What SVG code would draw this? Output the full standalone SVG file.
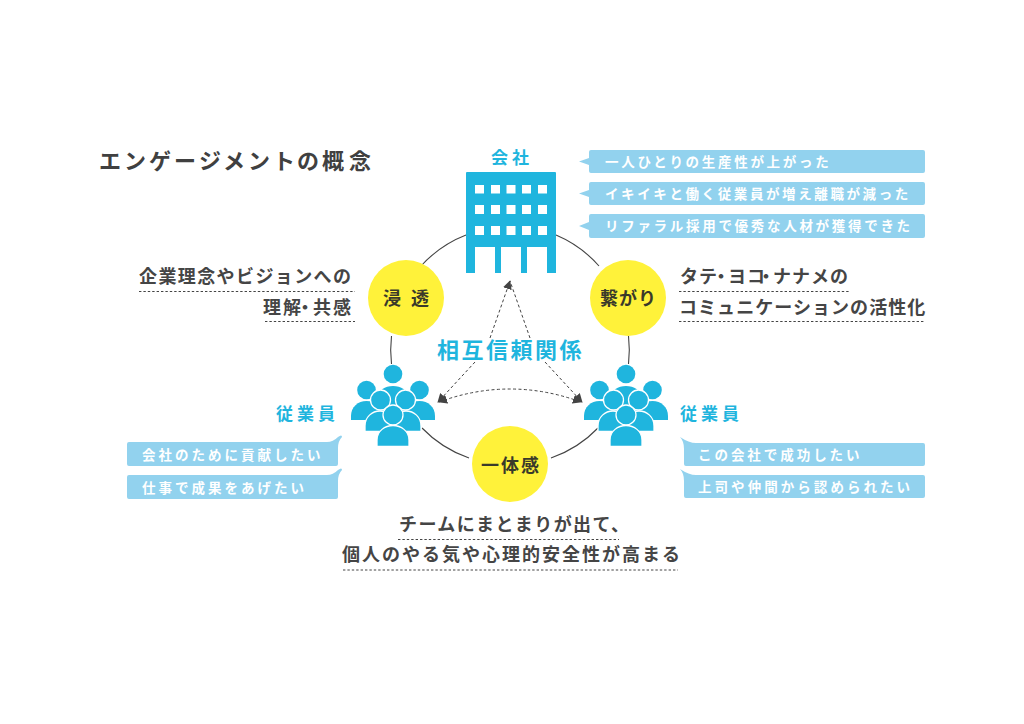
<svg xmlns="http://www.w3.org/2000/svg" xmlns:xlink="http://www.w3.org/1999/xlink" width="1024" height="724" viewBox="0 0 1024 724">
<style>
text{font-family:"Noto Sans CJK JP","Noto Sans",sans-serif}
.dark{fill:#454545;font-weight:700;font-size:18px;letter-spacing:1.4px}
.title{fill:#404040;font-weight:700;font-size:22px}
.blue{fill:#1fb5de;font-weight:700;font-size:17px;letter-spacing:4px}
.mid{fill:#1fb5de;font-weight:700;font-size:22px;letter-spacing:2.5px}
.bub{fill:#fff;font-weight:700;font-size:13.5px;letter-spacing:2.7px}
.circ{fill:#3a3a2a;font-weight:700;font-size:18px}
.ring{fill:none;stroke:#444;stroke-width:1.1}
.dot{stroke:#444;stroke-width:1;stroke-dasharray:2.4 2;fill:none}
.arr{stroke:#444;stroke-width:1;stroke-dasharray:3 2.4;fill:none}
.bb{fill:#92d2ee}
.y{fill:#fff23a}
.p{fill:#1fb5de}
.po{fill:#1fb5de;stroke:#fff;stroke-width:1.3}
</style>
<defs>
<marker id="ah" viewBox="0 0 10 10" refX="9" refY="5" markerWidth="9" markerHeight="9" markerUnits="userSpaceOnUse" orient="auto-start-reverse"><path d="M0 0L10 5L0 10Z" fill="#444"/></marker>
<g id="people">
<circle class="p" cx="0" cy="0" r="9.3"/>
<path class="p" d="M-15 24C-15 16-8 12 0 12C8 12 15 16 15 24V38H-15Z"/>
<circle class="p" cx="-26.5" cy="16" r="9.3"/>
<circle class="p" cx="26.5" cy="16" r="9.3"/>
<path class="p" d="M-42 46V42C-42 33-35 27-26.5 27C-18 27-11 33-11 42V46Z"/>
<path class="p" d="M42 46V42C42 33 35 27 26.5 27C18 27 11 33 11 42V46Z"/>
<circle class="po" cx="-12.5" cy="26" r="10"/>
<circle class="po" cx="12.5" cy="26" r="10"/>
<path class="po" d="M-28 57.5V52C-28 43-21 37-13 37C-5 37 2 43 2 52V57.5Z"/>
<path class="po" d="M28 57.5V52C28 43 21 37 13 37C5 37-2 43-2 52V57.5Z"/>
<circle class="po" cx="0" cy="41" r="10"/>
<path class="po" d="M-16 72.5V66C-16 57-8 51.500 0 51.500C8 51.500 16 57 16 66V72.500Z"/>
</g>
</defs>
<rect width="1024" height="724" fill="#fff"/>
<g id="connectors">
<path class="ring" d="M556 235A119 119 0 0 1 599 266"/>
<path class="ring" d="M628.500 336A119 119 0 0 1 628.500 364"/>
<path class="ring" d="M598 428A119 119 0 0 1 551 458"/>
<path class="ring" d="M469 458A119 119 0 0 1 422 428"/>
<path class="ring" d="M391.500 364A119 119 0 0 1 391.500 336"/>
<path class="ring" d="M421 266A119 119 0 0 1 466 235"/>
<path class="arr" d="M490 338L510 281" marker-end="url(#ah)"/>
<path class="arr" d="M530 338L510 281"/>
<path class="arr" d="M475 362L438 402" marker-end="url(#ah)"/>
<path class="arr" d="M545 362L582 402" marker-end="url(#ah)"/>
<path class="arr" d="M439 402Q510 376 581 402" marker-start="url(#ah)" marker-end="url(#ah)"/>
</g>
<text class="title" x="99 124 149 174 199 223 248 273 297 322 349" y="169">エンゲージメントの概念</text>
<g id="company">
<path class="p" d="M467 172H555Q556 172 556 173V273H547V247H527V273H521V247H501V273H495V247H475V273H466V173Q466 172 467 172Z"/>
<g fill="#fff">
<rect x="475" y="185" width="9" height="8.500"/><rect x="491" y="185" width="9" height="8.500"/><rect x="506.500" y="185" width="9" height="8.500"/><rect x="522" y="185" width="9" height="8.500"/><rect x="538" y="185" width="9" height="8.500"/>
<rect x="475" y="205" width="9" height="9"/><rect x="491" y="205" width="9" height="9"/><rect x="506.500" y="205" width="9" height="9"/><rect x="522" y="205" width="9" height="9"/><rect x="538" y="205" width="9" height="9"/>
<rect x="475" y="226" width="9" height="9"/><rect x="491" y="226" width="9" height="9"/><rect x="506.500" y="226" width="9" height="9"/><rect x="522" y="226" width="9" height="9"/><rect x="538" y="226" width="9" height="9"/>
</g>
<text class="blue" x="491" y="164">会社</text>
</g>
<g id="company-voices">
<path class="bb" d="M591 150H923Q925 150 925 152V171Q925 173 923 173H591Q589 173 589 171V165L579 161.500L589 158V152Q589 150 591 150Z"/>
<path class="bb" d="M591 182H923Q925 182 925 184V203Q925 205 923 205H591Q589 205 589 203V197L579 193.500L589 190V184Q589 182 591 182Z"/>
<path class="bb" d="M591 214H923Q925 214 925 216V236Q925 238 923 238H591Q589 238 589 236V230L579 226L589 222V216Q589 214 591 214Z"/>
<text class="bub" x="605" y="166.500">一人ひとりの生産性が上がった</text>
<text class="bub" x="605" y="198.500" style="letter-spacing:2.6px">イキイキと働く従業員が増え離職が減った</text>
<text class="bub" x="605" y="231" style="letter-spacing:2.7px">リファラル採用で優秀な人材が獲得できた</text>
</g>
<g id="shinto">
<circle class="y" cx="406" cy="298" r="38"/>
<text class="circ" x="383" y="305" letter-spacing="10">浸透</text>
<text class="dark" x="139" y="283">企業理念やビジョンへの</text>
<text class="dark" x="263 283 296 313 333" y="314">理解・共感</text>
<path class="dot" d="M139 291.500H355M265 321.500H355"/>
</g>
<g id="tsunagari">
<circle class="y" cx="628" cy="298" r="38"/>
<text class="circ" x="600" y="305" letter-spacing="1">繋がり</text>
<text class="dark" x="680 699 712 728 747 757 773 792 811 830" y="283">タテ・ヨコ・ナナメの</text>
<text class="dark" x="679" y="314" style="letter-spacing:1.05px">コミュニケーションの活性化</text>
<path class="dot" d="M679 291.500H849M679 321.500H925"/>
</g>
<text class="mid" x="437" y="358">相互信頼関係</text>
<g id="employee-left">
<use xlink:href="#people" href="#people" x="393" y="374"/>
<text class="blue" x="276" y="420">従業員</text>
<path class="bb" d="M129 442H327Q333 442 338 437Q342 434 342 437Q338 441 338 448V464Q338 466 336 466H129Q127 466 127 464V444Q127 442 129 442Z"/>
<path class="bb" d="M129 475H327Q333 475 338 470Q342 467 342 470Q338 474 338 481V497Q338 499 336 499H129Q127 499 127 497V477Q127 475 129 475Z"/>
<text class="bub" x="142" y="460" style="letter-spacing:3px">会社のために貢献したい</text>
<text class="bub" x="142" y="492.500" style="letter-spacing:3px">仕事で成果をあげたい</text>
</g>
<g id="employee-right">
<use xlink:href="#people" href="#people" x="626" y="374"/>
<text class="blue" x="680" y="420">従業員</text>
<path class="bb" d="M923 443H696Q689 443 680 437Q684 441 684 449V464Q684 466 686 466H923Q925 466 925 464V445Q925 443 923 443Z"/>
<path class="bb" d="M923 475H696Q689 475 680 469Q684 473 684 481V496Q684 498 686 498H923Q925 498 925 496V477Q925 475 923 475Z"/>
<text class="bub" x="698" y="460" style="letter-spacing:2.95px">この会社で成功したい</text>
<text class="bub" x="698" y="492" style="letter-spacing:3.05px">上司や仲間から認められたい</text>
</g>
<g id="ittaikan">
<circle class="y" cx="510" cy="464" r="38"/>
<text class="circ" x="481" y="472" letter-spacing="2">一体感</text>
<text class="dark" x="399" y="531">チームにまとまりが出て、</text>
<text class="dark" x="342" y="561" style="letter-spacing:2px">個人のやる気や心理的安全性が高まる</text>
<path class="dot" d="M398 539.500H619M343 570H678"/>
</g>
</svg>
